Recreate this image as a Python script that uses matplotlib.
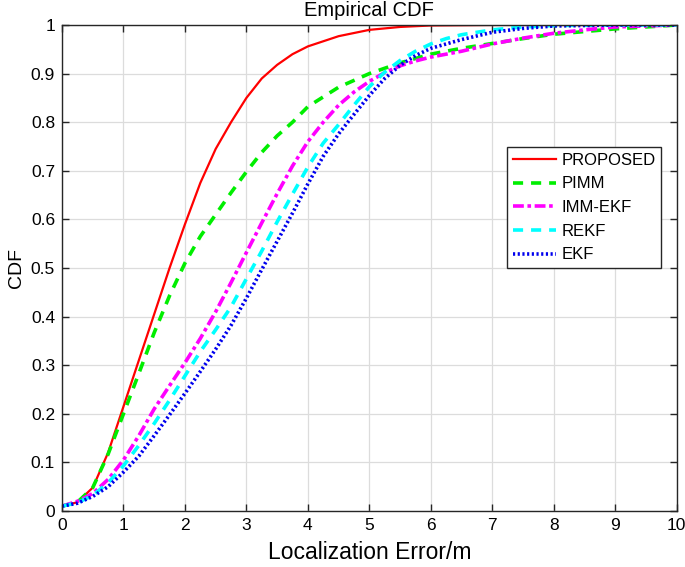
import matplotlib
matplotlib.use("Agg")
import matplotlib.pyplot as plt

plt.rcParams['font.family'] = ['Liberation Sans', 'DejaVu Sans']

# ---- data ----
proposed_x = [0, 0.25, 0.5, 0.75, 1.0, 1.25, 1.5, 1.75, 2.0, 2.25, 2.5, 2.75, 3.0, 3.25, 3.5, 3.75, 4.0, 4.5, 5.0, 5.5, 6.0, 7.0, 8.0, 9.0, 10.0]
proposed_y = [0.01, 0.018, 0.048, 0.12, 0.215, 0.31, 0.405, 0.5, 0.59, 0.675, 0.745, 0.8, 0.85, 0.89, 0.918, 0.94, 0.956, 0.977, 0.99, 0.996, 0.999, 1.0, 1.0, 1.0, 1.0]

pimm_x = [0, 0.25, 0.5, 0.75, 1.0, 1.25, 1.5, 1.75, 2.0, 2.25, 2.5, 2.75, 3.0, 3.25, 3.5, 3.75, 4.0, 4.5, 5.0, 5.5, 6.0, 6.5, 7.0, 7.5, 8.0, 9.0, 10.0]
pimm_y = [0.01, 0.018, 0.048, 0.117, 0.2, 0.283, 0.367, 0.443, 0.51, 0.565, 0.61, 0.655, 0.698, 0.738, 0.772, 0.8, 0.832, 0.872, 0.9, 0.922, 0.94, 0.952, 0.962, 0.972, 0.981, 0.992, 1.0]

immekf_x = [0, 0.25, 0.5, 0.75, 1.0, 1.25, 1.5, 1.75, 2.0, 2.25, 2.5, 2.75, 3.0, 3.25, 3.5, 3.75, 4.0, 4.25, 4.5, 4.75, 5.0, 5.25, 5.5, 5.75, 6.0, 6.5, 7.0, 7.5, 8.0, 8.5, 9.0, 10.0]
immekf_y = [0.01, 0.02, 0.036, 0.065, 0.105, 0.155, 0.21, 0.258, 0.305, 0.355, 0.41, 0.47, 0.532, 0.593, 0.653, 0.71, 0.76, 0.8, 0.835, 0.862, 0.884, 0.902, 0.916, 0.926, 0.934, 0.946, 0.961, 0.973, 0.983, 0.99, 0.996, 1.0]

rekf_x = [0, 0.25, 0.5, 0.75, 1.0, 1.25, 1.5, 1.75, 2.0, 2.25, 2.5, 2.75, 3.0, 3.25, 3.5, 3.75, 4.0, 4.25, 4.5, 4.75, 5.0, 5.25, 5.5, 5.75, 6.0, 6.25, 6.5, 7.0, 7.5, 8.0, 9.0, 10.0]
rekf_y = [0.01, 0.017, 0.032, 0.058, 0.093, 0.135, 0.18, 0.228, 0.278, 0.328, 0.373, 0.42, 0.478, 0.535, 0.595, 0.652, 0.708, 0.757, 0.795, 0.835, 0.873, 0.903, 0.927, 0.946, 0.961, 0.972, 0.98, 0.99, 0.996, 0.999, 1.0, 1.0]

ekf_x = [0, 0.25, 0.5, 0.75, 1.0, 1.25, 1.5, 1.75, 2.0, 2.25, 2.5, 2.75, 3.0, 3.25, 3.5, 3.75, 4.0, 4.25, 4.5, 4.75, 5.0, 5.25, 5.5, 5.75, 6.0, 6.5, 7.0, 7.5, 8.0, 9.0, 10.0]
ekf_y = [0.01, 0.016, 0.03, 0.05, 0.08, 0.113, 0.155, 0.198, 0.242, 0.287, 0.333, 0.382, 0.438, 0.497, 0.555, 0.613, 0.673, 0.73, 0.776, 0.816, 0.855, 0.89, 0.917, 0.937, 0.952, 0.97, 0.985, 0.993, 0.998, 1.0, 1.0]

labels = ['PROPOSED', 'PIMM', 'IMM-EKF', 'REKF', 'EKF']
x_ticks = list(range(0, 11))
y_ticks = [0, 0.1, 0.2, 0.3, 0.4, 0.5, 0.6, 0.7, 0.8, 0.9, 1]
y_tick_labels = ['0', '0.1', '0.2', '0.3', '0.4', '0.5', '0.6', '0.7', '0.8', '0.9', '1']

# ---- figure ----
fig = plt.figure(figsize=(6.85, 5.67), dpi=100)
ax = fig.add_axes([62/685, 1 - 511/567, (676.7 - 62)/685, (511 - 25)/567])

ax.plot(proposed_x, proposed_y, color='#ff0000', lw=1.6, ls='-', label=labels[0])
ax.plot(pimm_x, pimm_y, color='#00ee00', lw=2.6, ls=(0, (2.8, 2.2)), label=labels[1])
ax.plot(immekf_x, immekf_y, color='#ff00ff', lw=2.6, ls=(0, (3.0, 1.0, 1.0, 1.0)), label=labels[2])
ax.plot(rekf_x, rekf_y, color='#00ffff', lw=2.6, ls=(0, (2.8, 2.2)), label=labels[3])
ax.plot(ekf_x, ekf_y, color='#0000ee', lw=2.6, ls=(0, (0.6, 0.7)), label=labels[4])

ax.set_xlim(0, 10)
ax.set_ylim(0, 1)
ax.set_xticks(x_ticks)
ax.set_xticklabels([str(v) for v in x_ticks])
ax.set_yticks(y_ticks)
ax.set_yticklabels(y_tick_labels)
ax.tick_params(direction='in', length=5, width=1, top=True, right=True,
               labelsize=12.5, colors='#262626', labelcolor='black', pad=5)
ax.grid(True, color='#dcdcdc', lw=0.9)
ax.set_axisbelow(True)
for s in ax.spines.values():
    s.set_color('#262626')
    s.set_linewidth(1.0)

ax.set_xlabel('Localization Error/m', fontsize=16.5, labelpad=6)
ax.set_ylabel('CDF', fontsize=14, labelpad=4)
fig.text((62 + 676.7) / 2 / 685, 1 - 11/567, 'Empirical CDF', ha='center', va='center', fontsize=14.5)

leg = ax.legend(loc='upper left', bbox_to_anchor=(0.724, 0.749), borderaxespad=0,
                fontsize=12, handlelength=2.6, handletextpad=0.3, labelspacing=0.52,
                borderpad=0.35, frameon=True, fancybox=False, framealpha=1)
leg.get_frame().set_edgecolor('#262626')
leg.get_frame().set_linewidth(1.0)

fig.savefig('out.png', dpi=100)
